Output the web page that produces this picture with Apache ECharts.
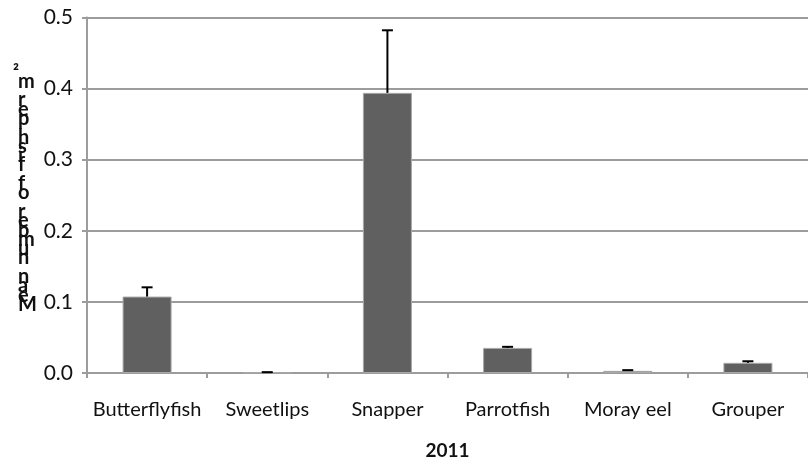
<!DOCTYPE html>
<html>
<head>
<meta charset="utf-8">
<script src="https://cdn.jsdelivr.net/npm/echarts@6/dist/echarts.min.js"></script>
<style>
html,body{margin:0;padding:0;background:#fff;}
#chart{width:808px;height:465px;}
</style>
</head>
<body>
<div id="chart"></div>
<script>
const categories = ["Butterflyfish", "Sweetlips", "Snapper", "Parrotfish", "Moray eel", "Grouper"];
const means = [0.1075, 0.0006, 0.394, 0.0353, 0.003, 0.0143];
const errors = [0.013, 0.0006, 0.088, 0.0015, 0.001, 0.0022];
const yTicks = [0, 0.1, 0.2, 0.3, 0.4, 0.5];
const xTitle = "2011";
const yTitle = "Mean number of fish per m²";

const FONT = "Lato, 'Open Sans', sans-serif";
const GRID = '#9c9c9c';
const TXT = '#111';

const chart = echarts.init(document.getElementById('chart'));

// Stacked (reversed) vertical axis title, one character per row as in the original
const chars = yTitle.split('').reverse();
const titleTop = 72, titleStep = 9.3;
const titleGraphics = chars.map((ch, i) => ({
  type: 'text',
  x: ch === '²' ? 13 : 18,
  y: titleTop + i * titleStep,
  z: 10,
  style: {
    text: ch,
    fontFamily: FONT,
    fontWeight: 'bold',
    fontSize: ch === '²' ? 18 : 20,
    fill: TXT,
    align: 'left',
    verticalAlign: 'middle'
  }
}));

chart.setOption({
  animation: false,
  grid: { left: 87, right: -11, top: 17.5, bottom: 90.5, containLabel: false },
  xAxis: {
    type: 'category',
    data: categories,
    boundaryGap: true,
    name: xTitle,
    nameLocation: 'middle',
    nameGap: 68,
    nameTextStyle: { fontFamily: FONT, fontWeight: 'bold', fontSize: 19, color: TXT },
    axisLine: { lineStyle: { color: GRID, width: 2 } },
    axisTick: { show: true, interval: 0, length: 5, lineStyle: { color: GRID, width: 2 } },
    axisLabel: { interval: 0, margin: 27, fontFamily: FONT, fontSize: 20, color: TXT }
  },
  yAxis: {
    type: 'value',
    min: yTicks[0],
    max: yTicks[yTicks.length - 1],
    interval: 0.1,
    axisLine: { show: true, lineStyle: { color: GRID, width: 2 } },
    axisTick: { show: true, length: 5, lineStyle: { color: GRID, width: 2 } },
    splitLine: { show: true, lineStyle: { color: GRID, width: 2 } },
    axisLabel: { margin: 14, fontFamily: FONT, fontSize: 21, color: TXT, formatter: v => v.toFixed(1) }
  },
  graphic: titleGraphics,
  series: [{
    type: 'bar',
    data: means,
    barWidth: 49,
    itemStyle: { color: '#606060', borderColor: '#a8a8a8', borderWidth: 1 },
    z: 2
  }, {
    type: 'custom',
    data: categories.map((c, i) => [i, means[i], means[i] + errors[i]]),
    renderItem: function (params, api) {
      const x = api.value(0);
      const base = api.coord([x, api.value(1)]);
      const top = api.coord([x, api.value(2)]);
      const half = 5.5;
      return {
        type: 'group',
        children: [{
          type: 'line',
          shape: { x1: base[0], y1: base[1], x2: top[0], y2: top[1] },
          style: { stroke: '#000', lineWidth: 2 }
        }, {
          type: 'line',
          shape: { x1: top[0] - half, y1: top[1], x2: top[0] + half, y2: top[1] },
          style: { stroke: '#000', lineWidth: 2 }
        }]
      };
    },
    z: 3
  }]
});
</script>
</body>
</html>
